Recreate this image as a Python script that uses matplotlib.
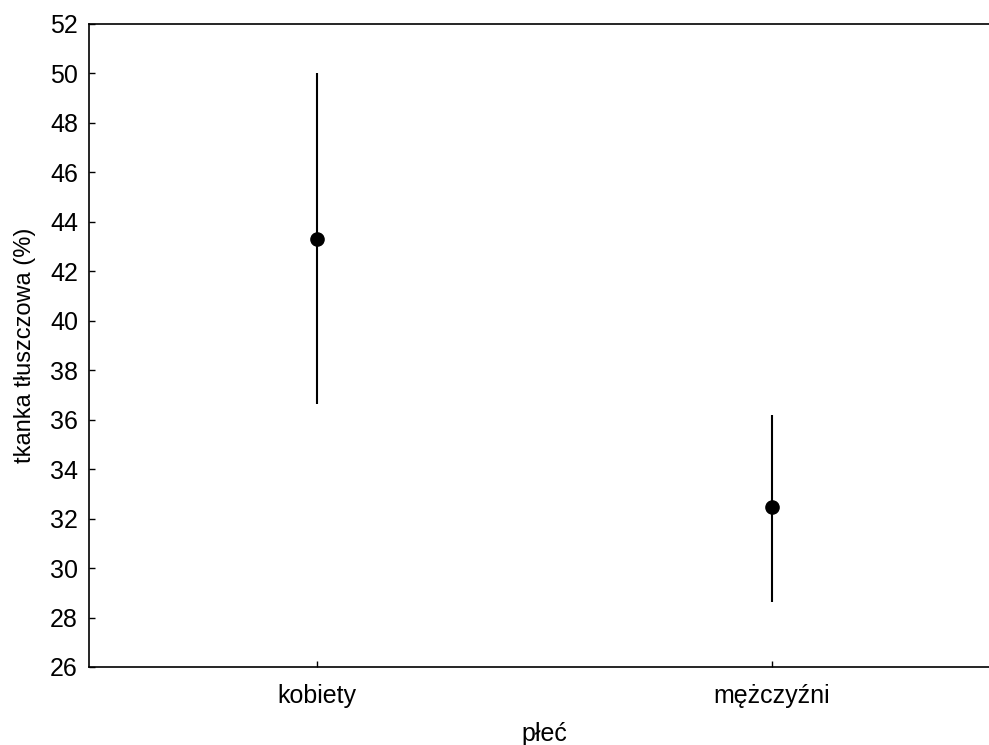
import matplotlib
matplotlib.use("Agg")
import matplotlib.pyplot as plt

categories = ["kobiety", "mężczyźni"]
means = [43.3, 32.45]
upper = [50.0, 36.2]
lower = [36.65, 28.62]

plt.rcParams['font.family'] = ['Liberation Sans', 'DejaVu Sans']

fig = plt.figure(figsize=(9.89, 7.45), dpi=100)
ax = fig.add_axes([89/989, 1-667/745, (999-89)/989, (667-24)/745])

x = list(range(len(categories)))
yerr = [[m - l for m, l in zip(means, lower)], [u - m for m, u in zip(means, upper)]]
ax.errorbar(x, means, yerr=yerr, fmt='o', color='black', ecolor='black',
            elinewidth=1.5, capsize=0, markersize=9.5)

ax.set_xlim(-0.5, 1.5)
ax.set_ylim(26, 52)
ax.set_yticks(range(26, 53, 2))
ax.set_xticks(x)
ax.set_xticklabels(categories)
ax.tick_params(direction='in', length=4, width=1, labelsize=18, pad=8)
ax.tick_params(axis='x', pad=12)
for s in ax.spines.values():
    s.set_linewidth(1.2)
ax.set_xlabel('płeć', fontsize=18, labelpad=10)
ax.set_ylabel('tkanka tłuszczowa (%)', fontsize=17, labelpad=10)

fig.savefig('out.png', dpi=100)
